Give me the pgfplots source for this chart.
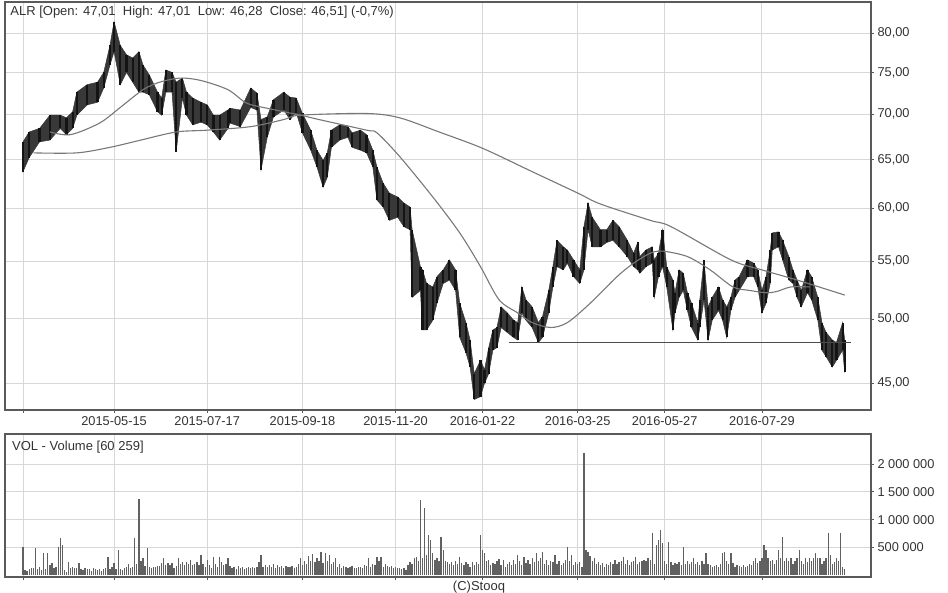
\documentclass[border=0pt]{standalone}
\usepackage{pgfplots}
\pgfplotsset{compat=1.18}
\usepackage{pgfplotstable}
\usepackage{fontspec}
\setmainfont{Liberation Sans}
\definecolor{gridc}{RGB}{215,215,215}
\definecolor{boxc}{RGB}{90,90,90}
\definecolor{txtc}{RGB}{50,50,50}
\definecolor{mac}{RGB}{120,120,120}

\pgfplotstableread[row sep=\\]{
d lo hi\\
0 63.7 66.9\\ 3 65.2 68.0\\ 8 66.9 68.4\\ 13 67.1 69.9\\ 18 68.4 69.9\\ 21 67.7 69.6\\
24 68.4 70.3\\ 26 69.9 72.6\\ 31 71.1 73.5\\ 36 71.4 73.8\\ 39 73.1 75.0\\ 42 75.9 78.4\\
44 77.6 81.5\\ 47 73.5 78.4\\ 50 75.0 77.2\\ 53 73.8 76.8\\ 56 72.6 77.6\\ 58 72.6 75.9\\
61 72.3 74.7\\ 65 70.3 72.6\\ 67 69.9 71.9\\ 69 72.6 75.3\\ 72 72.6 75.0\\ 74 65.8 73.8\\
77 71.9 74.3\\ 79 69.9 72.6\\ 82 68.8 71.9\\ 86 69.1 71.4\\ 89 68.8 71.1\\ 92 68.0 69.9\\
95 67.1 69.9\\ 99 68.4 70.5\\ 100 69.0 70.7\\ 105 68.6 70.5\\ 110 70.8 73.1\\ 113 70.5 72.5\\
115 63.9 69.4\\ 118 67.4 69.7\\ 121 69.7 71.7\\ 126 70.5 72.6\\ 129 69.4 72.0\\ 132 70.2 71.9\\
135 67.9 70.1\\ 139 66.0 68.2\\ 142 64.2 66.0\\ 145 62.1 64.9\\ 147 63.1 65.7\\ 149 66.3 68.2\\
153 67.1 68.8\\ 157 67.4 68.6\\ 159 66.3 67.9\\ 163 66.0 68.2\\ 166 65.7 67.7\\ 169 64.2 66.0\\
171 60.8 64.2\\ 174 60.1 62.5\\ 177 58.8 61.5\\ 181 59.1 61.1\\ 184 58.2 60.5\\ 187 57.9 60.1\\
188 51.8 57.9\\ 192 52.4 54.5\\ 193 49.1 54.2\\ 195 49.1 53.0\\ 198 49.9 52.7\\ 200 51.3 53.6\\
203 53.0 54.2\\ 206 53.3 55.1\\ 209 52.4 54.2\\ 211 48.5 51.3\\ 214 47.3 49.7\\ 216 46.2 48.3\\
218 43.8 45.7\\ 221 44.0 46.7\\ 223 45.0 46.0\\ 225 45.7 47.7\\ 227 47.5 49.1\\ 229 47.7 49.3\\
231 49.3 51.0\\ 234 48.9 50.5\\ 237 48.5 49.9\\ 239 48.3 49.7\\ 241 50.5 52.7\\ 243 49.9 51.6\\
246 49.3 51.0\\ 249 48.1 49.7\\ 251 48.5 50.2\\ 254 50.5 52.4\\ 256 52.7 54.5\\ 258 54.5 56.9\\
261 54.2 56.3\\ 263 54.8 56.0\\ 266 53.6 55.1\\ 269 53.0 54.2\\ 271 54.2 58.2\\ 273 57.9 60.5\\
275 56.3 59.1\\ 279 56.3 57.9\\ 282 56.7 57.9\\ 285 56.9 58.8\\ 288 56.3 58.2\\ 292 55.4 56.9\\
295 54.5 55.7\\ 297 54.2 56.7\\ 298 53.9 55.4\\ 301 54.5 56.0\\ 304 54.8 56.3\\ 305 51.8 55.1\\
307 53.6 55.7\\ 309 54.5 57.9\\ 311 52.7 54.5\\ 314 49.1 53.3\\ 315 50.5 52.2\\ 317 51.8 54.2\\
319 52.4 53.9\\ 321 50.7 52.2\\ 323 49.3 51.3\\ 326 48.3 49.7\\ 327 49.3 51.6\\ 329 51.6 55.1\\
331 48.3 51.0\\ 333 49.9 51.8\\ 336 50.7 52.7\\ 338 49.9 51.6\\ 340 48.5 51.0\\ 342 50.7 51.8\\
344 51.8 53.3\\ 346 52.4 53.6\\ 350 53.6 55.1\\ 353 53.6 54.8\\ 355 52.7 54.2\\ 357 50.5 52.4\\
359 51.3 53.6\\ 361 53.0 56.0\\ 362 56.0 57.6\\ 365 56.3 57.7\\ 367 55.1 56.9\\ 370 53.3 55.4\\
372 53.0 54.2\\ 374 51.8 53.3\\ 376 51.0 52.4\\ 379 52.2 54.2\\ 381 51.6 53.6\\ 384 49.9 51.8\\
386 47.5 49.7\\ 388 47.0 48.9\\ 391 46.2 48.3\\ 393 46.7 48.1\\ 396 47.5 49.7\\ 397 45.8 48.3\\
}\ohlc

\begin{document}
\begin{tikzpicture}
\useasboundingbox (0,0) rectangle (948pt,-593pt);
\pgfplotsset{
  every axis/.append style={
    scale only axis, width=866pt,
    xmin=-8.7, xmax=409.7,
    xtick={0,44,89,135,180,222,268,310,357},
    grid=major, major grid style={gridc, line width=0.9pt},
    axis line style={boxc, line width=1.2pt},
    tick align=outside, major tick length=3pt, tick style={boxc, line width=0.8pt},
    xtick pos=bottom, ytick pos=right, yticklabel pos=right,
    ticklabel style={font=\fontsize{12.8}{14}\selectfont, text=txtc},
    /pgf/number format/assume math mode=true,
  }
}
\begin{axis}[at={(5pt,-2pt)}, anchor=north west, height=408pt,
  ymode=log, ymin=43.05, ymax=84.2,
  ytick={45,50,55,60,65,70,75,80},
  yticklabels={{45,00},{50,00},{55,00},{60,00},{65,00},{70,00},{75,00},{80,00}},
  minor ytick={},
  xticklabels={,2015-05-15,2015-07-17,2015-09-18,2015-11-20,2016-01-22,2016-03-25,2016-05-27,2016-07-29},
]
% high-low envelope (forward along highs, back along lows)
\addplot[fill=black!78, draw=black!78, line width=0.5pt] coordinates {(0,66.9)(3,68.0)(8,68.4)(13,69.9)(18,69.9)(21,69.6)(24,70.3)(26,72.6)(31,73.5)(36,73.8)(39,75.0)(42,78.4)(44,81.5)(47,78.4)(50,77.2)(53,76.8)(56,77.6)(58,75.9)(61,74.7)(65,72.6)(67,71.9)(69,75.3)(72,75.0)(74,73.8)(77,74.3)(79,72.6)(82,71.9)(86,71.4)(89,71.1)(92,69.9)(95,69.9)(99,70.5)(100,70.7)(105,70.5)(110,73.1)(113,72.5)(115,69.4)(118,69.7)(121,71.7)(126,72.6)(129,72.0)(132,71.9)(135,70.1)(139,68.2)(142,66.0)(145,64.9)(147,65.7)(149,68.2)(153,68.8)(157,68.6)(159,67.9)(163,68.2)(166,67.7)(169,66.0)(171,64.2)(174,62.5)(177,61.5)(181,61.1)(184,60.5)(187,60.1)(188,57.9)(192,54.5)(193,54.2)(195,53.0)(198,52.7)(200,53.6)(203,54.2)(206,55.1)(209,54.2)(211,51.3)(214,49.7)(216,48.3)(218,45.7)(221,46.7)(223,46.0)(225,47.7)(227,49.1)(229,49.3)(231,51.0)(234,50.5)(237,49.9)(239,49.7)(241,52.7)(243,51.6)(246,51.0)(249,49.7)(251,50.2)(254,52.4)(256,54.5)(258,56.9)(261,56.3)(263,56.0)(266,55.1)(269,54.2)(271,58.2)(273,60.5)(275,59.1)(279,57.9)(282,57.9)(285,58.8)(288,58.2)(292,56.9)(295,55.7)(297,56.7)(298,55.4)(301,56.0)(304,56.3)(305,55.1)(307,55.7)(309,57.9)(311,54.5)(314,53.3)(315,52.2)(317,54.2)(319,53.9)(321,52.2)(323,51.3)(326,49.7)(327,51.6)(329,55.1)(331,51.0)(333,51.8)(336,52.7)(338,51.6)(340,51.0)(342,51.8)(344,53.3)(346,53.6)(350,55.1)(353,54.8)(355,54.2)(357,52.4)(359,53.6)(361,56.0)(362,57.6)(365,57.7)(367,56.9)(370,55.4)(372,54.2)(374,53.3)(376,52.4)(379,54.2)(381,53.6)(384,51.8)(386,49.7)(388,48.9)(391,48.3)(393,48.1)(396,49.7)(397,48.3)
(397,45.8)(396,47.5)(393,46.7)(391,46.2)(388,47.0)(386,47.5)(384,49.9)(381,51.6)(379,52.2)(376,51.0)(374,51.8)(372,53.0)(370,53.3)(367,55.1)(365,56.3)(362,56.0)(361,53.0)(359,51.3)(357,50.5)(355,52.7)(353,53.6)(350,53.6)(346,52.4)(344,51.8)(342,50.7)(340,48.5)(338,49.9)(336,50.7)(333,49.9)(331,48.3)(329,51.6)(327,49.3)(326,48.3)(323,49.3)(321,50.7)(319,52.4)(317,51.8)(315,50.5)(314,49.1)(311,52.7)(309,54.5)(307,53.6)(305,51.8)(304,54.8)(301,54.5)(298,53.9)(297,54.2)(295,54.5)(292,55.4)(288,56.3)(285,56.9)(282,56.7)(279,56.3)(275,56.3)(273,57.9)(271,54.2)(269,53.0)(266,53.6)(263,54.8)(261,54.2)(258,54.5)(256,52.7)(254,50.5)(251,48.5)(249,48.1)(246,49.3)(243,49.9)(241,50.5)(239,48.3)(237,48.5)(234,48.9)(231,49.3)(229,47.7)(227,47.5)(225,45.7)(223,45.0)(221,44.0)(218,43.8)(216,46.2)(214,47.3)(211,48.5)(209,52.4)(206,53.3)(203,53.0)(200,51.3)(198,49.9)(195,49.1)(193,49.1)(192,52.4)(188,51.8)(187,57.9)(184,58.2)(181,59.1)(177,58.8)(174,60.1)(171,60.8)(169,64.2)(166,65.7)(163,66.0)(159,66.3)(157,67.4)(153,67.1)(149,66.3)(147,63.1)(145,62.1)(142,64.2)(139,66.0)(135,67.9)(132,70.2)(129,69.4)(126,70.5)(121,69.7)(118,67.4)(115,63.9)(113,70.5)(110,70.8)(105,68.6)(100,69.0)(99,68.4)(95,67.1)(92,68.0)(89,68.8)(86,69.1)(82,68.8)(79,69.9)(77,71.9)(74,65.8)(72,72.6)(69,72.6)(67,69.9)(65,70.3)(61,72.3)(58,72.6)(56,72.6)(53,73.8)(50,75.0)(47,73.5)(44,77.6)(42,75.9)(39,73.1)(36,71.4)(31,71.1)(26,69.9)(24,68.4)(21,67.7)(18,68.4)(13,67.1)(8,66.9)(3,65.2)(0,63.7)} -- cycle;
\addplot[draw=none, mark=none, error bars/.cd, y dir=plus, y explicit, error mark=none,
  error bar style={draw=black!92, line width=2.2pt, solid}]
  table[x=d, y=lo, y error expr=\thisrow{hi}-\thisrow{lo}] {\ohlc};
\addplot[mac, line width=1.1pt, smooth] coordinates {(5,65.7)(26,65.7)(42,66.3)(57,67.1)(74,68.0)(89,68.2)(110,68.6)(126,69.4)(134,69.9)(166,70.1)(182,69.6)(201,68.0)(222,66.2)(246,63.7)(268,61.5)(279,60.4)(303,58.8)(313,58.2)(342,55.1)(357,54.2)(374,53.3)(397,52.0)};
\addplot[mac, line width=1.1pt, smooth] coordinates {(13,68.0)(23,67.7)(37,69.0)(47,70.8)(58,72.9)(66,73.8)(76,74.3)(86,74.0)(99,72.9)(108,71.3)(118,70.7)(134,69.9)(143,69.4)(166,68.2)(171,67.9)(182,65.3)(198,61.1)(211,57.6)(221,54.5)(230,51.6)(239,50.5)(246,49.7)(255,49.3)(263,49.7)(274,51.3)(287,53.6)(295,54.8)(303,55.7)(309,55.9)(321,55.4)(332,54.2)(343,52.7)(351,52.4)(359,52.2)(364,52.3)(371,52.7)(380,52.7)};
\addplot[black!70, line width=1.2pt] coordinates {(235,48.1) (400,48.1)};
\node[anchor=west, font=\fontsize{13}{14}\selectfont, text=txtc, inner sep=0pt] at (rel axis cs:0.006,0.975) {ALR [Open: 47,01\ \ High: 47,01\ \ Low: 46,28\ \ Close: 46,51] (-0,7\%)};
\end{axis}
\begin{axis}[at={(5pt,-434pt)}, anchor=north west, height=143pt,
  ymin=-36, ymax=2545,
  ytick={500,1000,1500,2000},
  yticklabels={500\ 000,1\ 000\ 000,1\ 500\ 000,2\ 000\ 000},
  xticklabels={},
]
\addplot[ycomb, draw=black!62, line width=1.3pt, mark=none] coordinates {(0,505)(1,90)(2,80)(3,110)(4,120)(5,130)(6,490)(7,100)(8,145)(9,90)(10,400)(11,110)(12,400)(13,180)(14,220)(15,120)(16,150)(17,505)(18,665)(19,540)(20,90)(21,60)(22,235)(23,130)(24,145)(25,120)(26,130)(27,220)(28,110)(29,90)(30,120)(31,100)(32,110)(33,80)(34,120)(35,100)(36,90)(37,110)(38,80)(39,100)(40,120)(41,325)(42,110)(43,150)(44,220)(45,100)(46,450)(47,110)(48,90)(49,130)(50,150)(51,200)(52,120)(53,140)(54,665)(55,200)(56,1370)(57,250)(58,305)(59,160)(60,490)(61,140)(62,130)(63,150)(64,140)(65,170)(66,160)(67,220)(68,305)(69,180)(70,215)(71,180)(72,215)(73,130)(74,160)(75,305)(76,200)(77,235)(78,180)(79,235)(80,200)(81,270)(82,180)(83,200)(84,235)(85,180)(86,360)(87,200)(88,150)(89,270)(90,180)(91,130)(92,325)(93,200)(94,150)(95,325)(96,235)(97,180)(98,200)(99,305)(100,160)(101,120)(102,145)(103,100)(104,160)(105,120)(106,145)(107,100)(108,130)(109,145)(110,120)(111,145)(112,130)(113,150)(114,230)(115,360)(116,150)(117,180)(118,140)(119,180)(120,150)(121,200)(122,130)(123,180)(124,150)(125,160)(126,130)(127,170)(128,150)(129,140)(130,160)(131,120)(132,140)(133,200)(134,305)(135,180)(136,250)(137,200)(138,340)(139,260)(140,380)(141,230)(142,300)(143,260)(144,415)(145,220)(146,390)(147,250)(148,360)(149,200)(150,230)(151,300)(152,150)(153,200)(154,130)(155,160)(156,150)(157,120)(158,140)(159,160)(160,130)(161,120)(162,140)(163,150)(164,130)(165,180)(166,160)(167,305)(168,150)(169,200)(170,180)(171,325)(172,250)(173,325)(174,150)(175,200)(176,160)(177,140)(178,160)(179,130)(180,140)(181,120)(182,130)(183,100)(184,120)(185,90)(186,180)(187,235)(188,200)(189,300)(190,325)(191,250)(192,1350)(193,300)(194,1210)(195,360)(196,720)(197,630)(198,400)(199,270)(200,300)(201,250)(202,690)(203,450)(204,250)(205,235)(206,200)(207,230)(208,180)(209,250)(210,200)(211,325)(212,220)(213,180)(214,235)(215,200)(216,150)(217,230)(218,180)(219,235)(220,200)(221,720)(222,450)(223,400)(224,250)(225,270)(226,180)(227,220)(228,200)(229,250)(230,290)(231,180)(232,270)(233,150)(234,200)(235,230)(236,180)(237,270)(238,200)(239,360)(240,250)(241,180)(242,325)(243,220)(244,270)(245,200)(246,300)(247,230)(248,400)(249,250)(250,300)(251,415)(252,200)(253,270)(254,180)(255,250)(256,230)(257,360)(258,200)(259,250)(260,180)(261,220)(262,270)(263,505)(264,250)(265,360)(266,180)(267,230)(268,200)(269,235)(270,150)(271,2200)(272,450)(273,420)(274,350)(275,250)(276,300)(277,200)(278,230)(279,180)(280,215)(281,150)(282,200)(283,180)(284,230)(285,200)(286,270)(287,200)(288,230)(289,250)(290,325)(291,200)(292,270)(293,180)(294,230)(295,250)(296,325)(297,200)(298,235)(299,250)(300,270)(301,250)(302,300)(303,270)(304,760)(305,200)(306,540)(307,630)(308,810)(309,580)(310,250)(311,200)(312,600)(313,230)(314,180)(315,215)(316,200)(317,230)(318,180)(319,505)(320,200)(321,250)(322,200)(323,235)(324,300)(325,200)(326,235)(327,180)(328,250)(329,200)(330,400)(331,200)(332,180)(333,150)(334,160)(335,180)(336,140)(337,200)(338,400)(339,415)(340,250)(341,200)(342,400)(343,220)(344,150)(345,180)(346,160)(347,140)(348,180)(349,150)(350,170)(351,200)(352,180)(353,250)(354,305)(355,220)(356,250)(357,300)(358,540)(359,450)(360,300)(361,250)(362,270)(363,200)(364,270)(365,450)(366,300)(367,690)(368,250)(369,300)(370,250)(371,305)(372,200)(373,250)(374,300)(375,450)(376,250)(377,200)(378,300)(379,230)(380,305)(381,250)(382,300)(383,400)(384,300)(385,305)(386,200)(387,250)(388,300)(389,760)(390,360)(391,200)(392,235)(393,300)(394,250)(395,760)(396,150)(397,100)};
\node[anchor=west, font=\fontsize{13}{14}\selectfont, text=txtc, inner sep=0pt] at (rel axis cs:0.008,0.909) {VOL - Volume [60 259]};
\end{axis}
\node[font=\fontsize{13}{14}\selectfont, text=txtc] at (479pt,-587pt) {(C)Stooq};
\end{tikzpicture}
\end{document}
